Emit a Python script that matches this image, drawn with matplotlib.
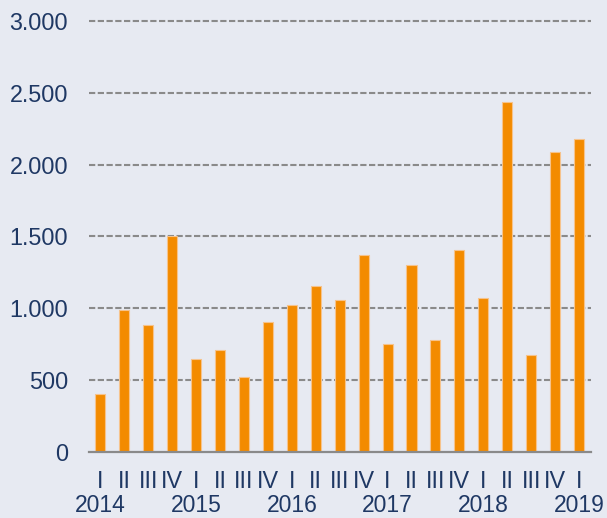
import matplotlib.pyplot as plt
import matplotlib.transforms as mtransforms

# quarterly values, 2014 I .. 2019 I
quarters = ["I", "II", "III", "IV"] * 5 + ["I"]
years = ["2014", "2015", "2016", "2017", "2018", "2019"]
values = [400, 990, 885, 1500,
          647, 710, 522, 903,
          1022, 1155, 1060, 1369,
          749, 1299, 777, 1404,
          1070, 2438, 672, 2086,
          2178]
yticks = [0, 500, 1000, 1500, 2000, 2500, 3000]

bg = "#E7EAF2"
navy = "#1F3864"
orange = "#F38B00"
grey = "#8A8A8A"

plt.rcParams["font.family"] = ["Liberation Sans", "DejaVu Sans"]

fig = plt.figure(figsize=(6.07, 5.18), dpi=100, facecolor=bg)
ax = fig.add_axes([0.1466, 0.128, 0.827, 0.8315], facecolor=bg)

x = list(range(len(values)))
ax.bar(x, values, width=0.42, color=orange, edgecolor="#F6C38C",
       linewidth=0.8, zorder=3)

for v in yticks[1:]:
    ax.axhline(v, color=grey, lw=1.5, linestyle=(0, (3, 1.2)), zorder=1,
               clip_on=False)
ax.axhline(0, color=grey, lw=1.6, zorder=4, clip_on=False)

ax.set_xlim(-0.48, 20.5)
ax.set_ylim(0, 3000)
ax.set_yticks(yticks)
ax.set_yticklabels([f"{v:,}".replace(",", ".") for v in yticks],
                   fontsize=16.8, color=navy)
ax.tick_params(axis="y", length=0, pad=15)
ax.set_xticks([])

for s in ax.spines.values():
    s.set_visible(False)

trans = ax.get_xaxis_transform()
for i, q in enumerate(quarters):
    ax.text(i, -0.0843, q, transform=trans, ha="center", va="baseline",
            fontsize=16.8, color=navy)

# years sit right at the bottom edge
ytrans = mtransforms.blended_transform_factory(ax.transData, fig.transFigure)
for k, yr in enumerate(years):
    ax.text(k * 4, 0.002, yr, transform=ytrans, ha="center", va="bottom",
            fontsize=16.5, color=navy)

fig.savefig("out.png", dpi=100, facecolor=bg)
